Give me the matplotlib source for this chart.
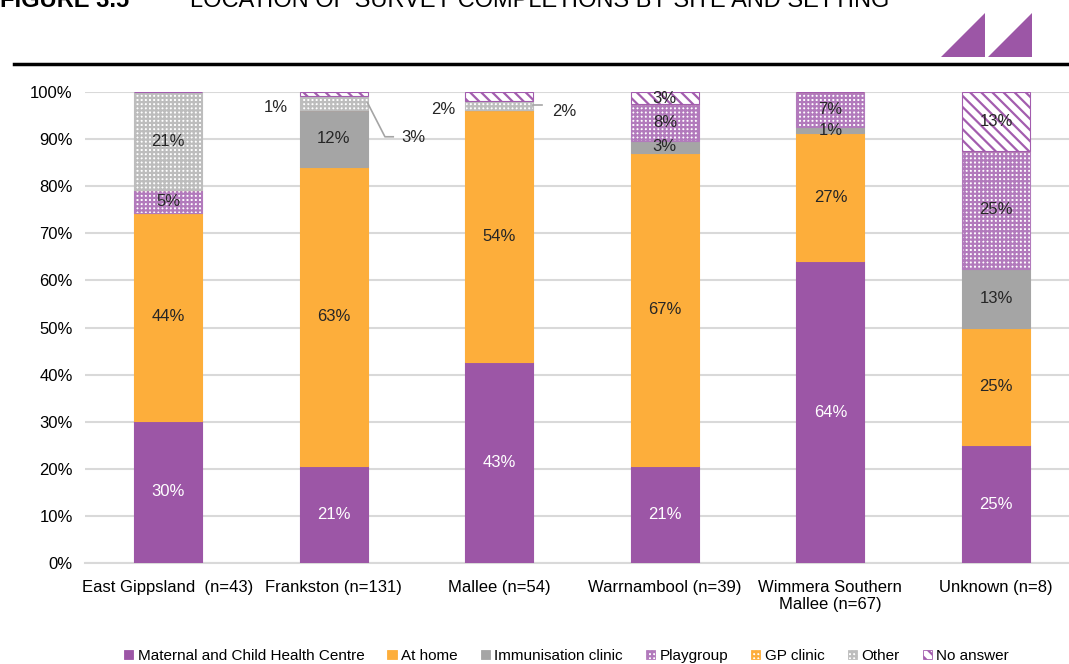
import numpy as np
import matplotlib
matplotlib.use('Agg')
import matplotlib.pyplot as plt
from matplotlib.patches import Polygon, Patch

plt.rcParams['font.family'] = ['Liberation Sans', 'DejaVu Sans']
plt.rcParams['hatch.linewidth'] = 1.6

# Site labels (n = respondents)
sites = ['East Gippsland  (n=43)', 'Frankston (n=131)', 'Mallee (n=54)',
         'Warrnambool (n=39)', 'Wimmera Southern\nMallee (n=67)', 'Unknown (n=8)']

# Percent of completions per setting
mch       = [30.2, 20.6, 42.6, 20.5, 64.1, 25.0]
at_home   = [44.2, 63.4, 53.6, 66.6, 27.1, 25.0]
immun     = [0.0, 12.2, 0.0, 2.6, 1.4, 12.5]
playgroup = [4.7, 0.0, 0.0, 7.7, 7.4, 25.0]
gp_clinic = [0.0, 0.0, 0.0, 0.0, 0.0, 0.0]
other     = [20.9, 3.0, 1.9, 0.0, 0.0, 0.0]
no_answer = [0.0, 0.8, 1.9, 2.6, 0.0, 12.5]

settings = ['Maternal and Child Health Centre', 'At home', 'Immunisation clinic',
            'Playgroup', 'GP clinic', 'Other', 'No answer']
series = [mch, at_home, immun, playgroup, gp_clinic, other, no_answer]

purple = '#9C56A6'
orange = '#FDAE3B'
grey = '#A5A5A5'
# (face, edge/hatch colour, hatch)
styles = [
    (purple, purple, None),
    (orange, orange, None),
    (grey, grey, None),
    ('white', '#B27ABC', '++++'),
    ('white', orange, '++++'),
    ('white', '#BDBDBD', '++++'),
    ('white', '#A35DAE', '\\\\\\'),
]
text_cols = ['white', '#262626', '#262626', '#262626', '#262626', '#262626', '#262626']

fig = plt.figure(figsize=(10.69, 6.64), dpi=100)
ax = fig.add_axes([0.0797, 0.1521, 0.9295, 0.7093])

x = np.arange(len(sites))
width = 0.41
bottom = np.zeros(len(sites))
# segments labelled outside the bar
outside = {(1, 5), (1, 6), (2, 5), (2, 6)}
for k, (vals, (fc, ec, hatch)) in enumerate(zip(series, styles)):
    vals = np.array(vals) / 100
    ax.bar(x, vals, width, bottom=bottom, color=fc, edgecolor=ec, hatch=hatch,
           linewidth=0.8, zorder=3)
    for i, v in enumerate(vals):
        if v > 0 and (i, k) not in outside:
            ax.text(x[i], bottom[i] + v / 2, f'{int(v * 100 + 0.5)}%', ha='center',
                    va='center', fontsize=12, color=text_cols[k], zorder=4)
    bottom += vals

# outside labels with leader lines
fs = 12
ax.text(x[1] - 0.35, 0.968, '1%', ha='center', va='center', fontsize=fs, color='#262626')
top_other_f = (mch[1] + at_home[1] + immun[1] + other[1] / 2) / 100
ax.plot([x[1] + width / 2, x[1] + 0.31, x[1] + 0.36], [top_other_f, 0.905, 0.905],
        color='#A5A5A5', lw=1.2, zorder=4)
ax.text(x[1] + 0.48, 0.904, '3%', ha='center', va='center', fontsize=fs, color='#262626')
ax.text(x[2] - 0.34, 0.962, '2%', ha='center', va='center', fontsize=fs, color='#262626')
top_other_m = (mch[2] + at_home[2] + other[2] / 2) / 100
ax.plot([x[2] + width / 2, x[2] + 0.26], [top_other_m, top_other_m],
        color='#A5A5A5', lw=1.2, zorder=4)
ax.text(x[2] + 0.39, 0.958, '2%', ha='center', va='center', fontsize=fs, color='#262626')

ax.set_xlim(-0.5, len(sites) - 0.5)
ax.set_ylim(0, 1)
ax.set_yticks(np.arange(0, 1.01, 0.1))
ax.set_yticklabels([f'{int(round(t * 100))}%' for t in np.arange(0, 1.01, 0.1)])
ax.set_xticks(x)
ax.set_xticklabels(sites, fontsize=12)
ax.tick_params(axis='y', labelsize=12, length=0, pad=9)
ax.tick_params(axis='x', length=0, pad=12)
ax.grid(axis='y', color='#D9D9D9', lw=1.5, zorder=0)
for s in ['left', 'right', 'top']:
    ax.spines[s].set_visible(False)
ax.spines['bottom'].set_color('#D9D9D9')
ax.spines['bottom'].set_linewidth(1.5)

handles = [Patch(facecolor=fc, edgecolor=ec, hatch=h, linewidth=0.6) for fc, ec, h in styles]
fig.legend(handles, settings, loc='center', bbox_to_anchor=(0.53, 0.012), ncol=7,
           frameon=False, fontsize=11, handlelength=0.6, handleheight=0.6,
           handletextpad=0.3, columnspacing=1.5)

# header: title, rule and logo
fig.text(0.0, 1 - 7 / 664, 'FIGURE 3.5', fontsize=17, fontweight='bold', va='baseline')
fig.text(190 / 1069, 1 - 7 / 664, 'LOCATION OF SURVEY COMPLETIONS BY SITE AND SETTING',
         fontsize=17, va='baseline')
fig.add_artist(plt.Line2D([14 / 1069, 1], [1 - 64 / 664] * 2, color='black', lw=2.5))
for x0 in [941, 988]:
    pts = [(x0 / 1069, 1 - 57 / 664), ((x0 + 44) / 1069, 1 - 57 / 664),
           ((x0 + 44) / 1069, 1 - 13 / 664)]
    fig.add_artist(Polygon(pts, closed=True, color=purple, lw=0))

fig.savefig('out.png', dpi=100)
